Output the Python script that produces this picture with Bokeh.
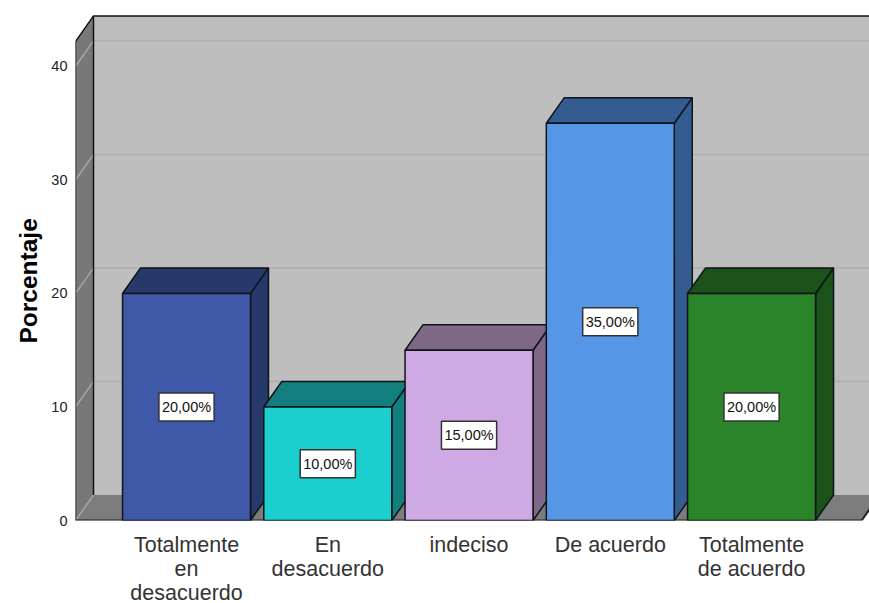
from bokeh.plotting import figure
from bokeh.embed import file_html
from bokeh.resources import INLINE
from bokeh.models import FixedTicker, Range1d, Title
from bokeh.core.properties import value

categories = ["Totalmente\nen\ndesacuerdo", "En\ndesacuerdo", "indeciso", "De acuerdo", "Totalmente\nde acuerdo"]
percentages = [20, 10, 15, 35, 20]
point_labels = ["20,00%", "10,00%", "15,00%", "35,00%", "20,00%"]
front_colors = ["#3F58A8", "#1BCFCF", "#CFA9E3", "#5596E6", "#2A852A"]
dark_colors = ["#27386B", "#127E7E", "#7F6788", "#345C90", "#1A521A"]
y_ticks = [0, 10, 20, 30, 40]
y_title = "Porcentaje"

X0, X1 = -0.786, 4.835
FLOOR_RIGHT = 4.779
Y1 = 45.81
DX, DY = 0.1274, 2.25
BW = 0.906
WALL_TOP = 42.2
EDGE = "#101418"

p = figure(frame_width=794, frame_height=520, width=869, height=603,
           x_range=Range1d(X0, X1), y_range=Range1d(0, Y1),
           output_backend="svg", toolbar_location=None,
           min_border_left=75, min_border_right=0, min_border_top=0, min_border_bottom=75,
           background_fill_color="white", border_fill_color="white")
p.outline_line_color = None
p.grid.visible = False

# walls and floor
p.patch([X0 + DX, X1 + DX, X1 + DX, X0 + DX], [DY, DY, WALL_TOP + DY, WALL_TOP + DY],
        fill_color="#BEBEBE", line_color=None)
p.patch([X0, X0 + DX, X0 + DX, X0], [0, DY, WALL_TOP + DY, WALL_TOP],
        fill_color="#787878", line_color=None)
p.patch([X0, FLOOR_RIGHT, FLOOR_RIGHT + DX, X0 + DX], [0, 0, DY, DY], fill_color="#7C7C7C", line_color=None)
p.segment([X0 + DX] * 4, [t + DY for t in y_ticks[1:]], [X1 + DX] * 4, [t + DY for t in y_ticks[1:]],
          line_color="#B2B2B2", line_width=2)
p.segment([X0] * 5, y_ticks, [X0 + DX] * 5, [t + DY for t in y_ticks],
          line_color="#A6A6A6", line_width=1.5)
p.line([X0, X0, X0 + DX, X1 + DX], [0, WALL_TOP, WALL_TOP + DY, WALL_TOP + DY], line_color=EDGE, line_width=1.5)
p.line([X0 + DX, X0 + DX], [DY, WALL_TOP + DY], line_color=EDGE, line_width=1.5)
p.line([X0, FLOOR_RIGHT, FLOOR_RIGHT + DX], [0, 0, DY], line_color="#222222", line_width=2)

# bars
for i, (v, f, d) in enumerate(zip(percentages, front_colors, dark_colors)):
    l, r = i - BW / 2, i + BW / 2
    p.patch([r, r + DX, r + DX, r], [0, DY, v + DY, v], fill_color=d, line_color=EDGE, line_width=1.5)
    p.patch([l, r, r + DX, l + DX], [v, v, v + DY, v + DY], fill_color=d, line_color=EDGE, line_width=1.5)
    p.quad(left=l, right=r, bottom=0, top=v, fill_color=f, line_color=EDGE, line_width=1.5)

p.text(list(range(5)), [v / 2 for v in percentages], text=point_labels,
       text_font=value("Liberation Sans"), text_font_size="14.5px", text_color="#111111",
       text_align="center", text_baseline="middle",
       background_fill_color="white", border_line_color="#333333", border_line_width=1.5,
       padding=(3, 6))

# axes
xa = p.xaxis[0]
xa.ticker = FixedTicker(ticks=list(range(5)))
xa.major_label_overrides = {i: c for i, c in enumerate(categories)}
xa.major_label_text_font = "Liberation Sans"
xa.major_label_text_font_size = "21.5px"
xa.major_label_text_color = "#333333"
xa.major_label_text_line_height = 1.0
xa.major_label_standoff = 12
xa.major_tick_in = 0
xa.major_tick_out = 0
xa.major_tick_line_color = None
xa.minor_tick_line_color = None
xa.axis_line_color = None

ya = p.yaxis[0]
ya.ticker = FixedTicker(ticks=y_ticks)
ya.major_label_text_font = "Liberation Sans"
ya.major_label_text_font_size = "14.5px"
ya.major_label_text_color = "#222222"
ya.major_label_standoff = 8
ya.major_tick_in = 0
ya.major_tick_out = 0
ya.major_tick_line_color = None
ya.minor_tick_line_color = None
ya.axis_line_color = None

p.add_layout(Title(text=y_title, align="left", offset=177, standoff=13,
                   text_font="Liberation Sans", text_font_style="bold",
                   text_font_size="24.5px", text_color="#000000"), "left")

open("out.html", "w").write(file_html(p, INLINE))
